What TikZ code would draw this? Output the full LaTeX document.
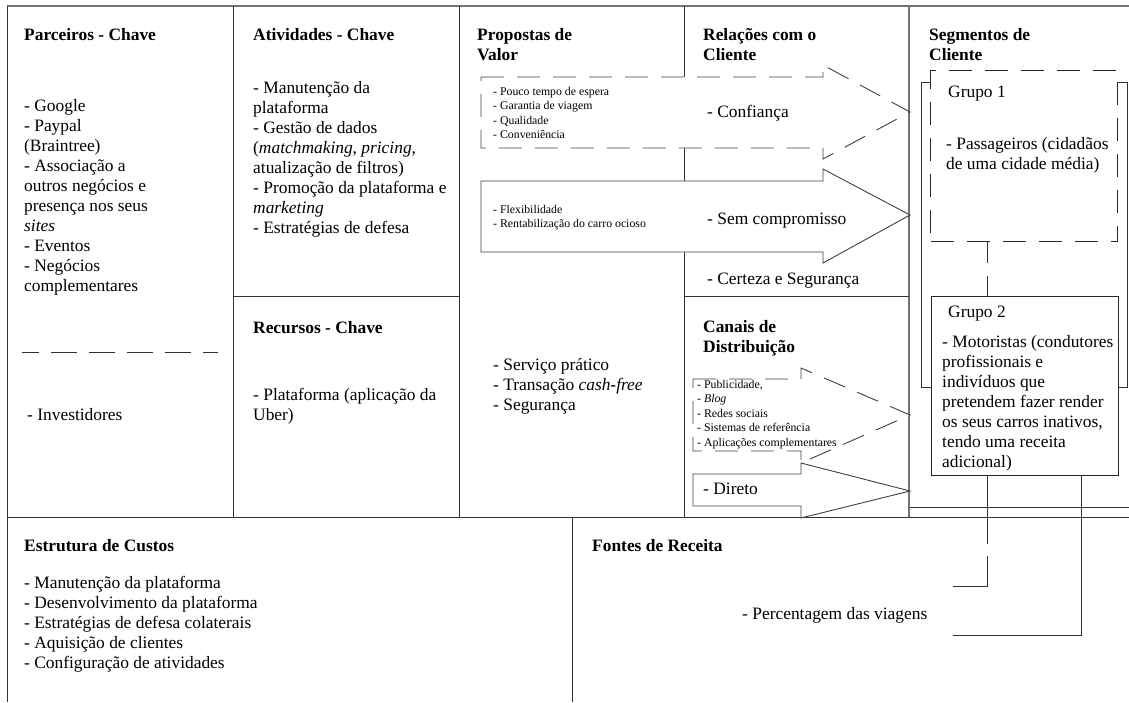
\documentclass[tikz,border=0pt]{standalone}
\usepackage{fontspec}
\setmainfont{Liberation Serif}
\usepackage{tikz}
\usetikzlibrary{positioning}

\tikzset{
  grid/.style={draw=black!80, line width=1pt},
  edge/.style={draw=black!55, line width=1.6pt},
  title/.style={font=\fontsize{17.4}{20}\selectfont\bfseries, anchor=base west, inner sep=0pt, align=left},
  body/.style={font=\fontsize{17.4}{20}\selectfont, anchor=base west, inner sep=0pt, align=left},
  small/.style={font=\fontsize{11.8}{14.5}\selectfont, anchor=base west, inner sep=0pt, align=left},
  longdash/.style={dash pattern=on 23pt off 13pt},
  grpbox/.style={draw=black!85, line width=1pt, fill=white, anchor=north west, inner sep=0pt},
  arrowbox/.style={draw=black!75, line width=0.9pt, fill=white, line join=miter}
}

\begin{document}
\begin{tikzpicture}[x=1pt, y=-1pt]
        \useasboundingbox (0,0) rectangle (1129,702);

        % Raster
        \draw[edge] (7,6) -- (1129,6);
        \draw[grid] (7,6) -- (7,702);
        \draw[grid] (233,6) -- (233,517);
        \draw[grid] (459,6) -- (459,517);
        \draw[grid] (684,6) -- (684,517);
        \draw[edge] (909,6) -- (909,517);
        \draw[grid] (233,296) -- (459,296);
        \draw[grid] (684,296) -- (909,296);
        \draw[grid] (910,507) -- (1129,507);
        \draw[grid] (7,517) -- (1129,517);
        \draw[grid] (572,517) -- (572,702);

        % Parceiros - Chave (multi-line nodes sit on their last baseline)
        \node[title] (parc) at (24,40) {Parceiros - Chave};
        \node[body] (parclist) at (24,291) {- Google\\- Paypal\\(Braintree)\\- Associação a\\outros negócios e\\presença nos seus\\\textit{sites}\\- Eventos\\- Negócios\\complementares};
        \draw[grid, dash pattern=on 26pt off 12pt, dash phase=9pt] (22,352) -- (218,352);
        \node[body] (invest) at (27,420) {- Investidores};

        % Atividades / Recursos
        \node[title] (ativ) at (253,40) {Atividades - Chave};
        \node[body] (ativlist) at (253,233) {- Manutenção da\\plataforma\\- Gestão de dados\\(\textit{matchmaking}, \textit{pricing},\\atualização de filtros)\\- Promoção da plataforma e\\\textit{marketing}\\- Estratégias de defesa};
        \node[title] (recur) at (253,333) {Recursos - Chave};
        \node[body] (recurlist) at (253,420) {- Plataforma (aplicação da\\Uber)};

        % Propostas de Valor
        \node[title] (prop) at (477,60) {Propostas de\\Valor};
        \node[body] (proplist) at (493,410) {- Serviço prático\\- Transação \textit{cash-free}\\- Segurança};

        % Relacoes com o Cliente
        \node[title] (rel) at (703,60) {Relações com o\\Cliente};
        \draw[arrowbox, longdash] (481,77) -- (823,77) -- (823,65) -- (910,112) -- (823,159) -- (823,148) -- (481,148) -- cycle;
        \draw[arrowbox] (481,181) -- (823,181) -- (823,169) -- (910,215) -- (823,263) -- (823,252) -- (481,252) -- cycle;
        \node[small] (arrvalor) at (493,138.5) {- Pouco tempo de espera\\- Garantia de viagem\\- Qualidade\\- Conveniência};
        \node[body] (conf) at (707,117) {- Confiança};
        \node[small] (arrflex) at (493,227.5) {- Flexibilidade\\- Rentabilização do carro ocioso};
        \node[body] (semcomp) at (707,224) {- Sem compromisso};
        \node[body] (certeza) at (707,284) {- Certeza e Segurança};

        % Canais de Distribuicao
        \node[title] (canais) at (703,352) {Canais de\\Distribuição};
        \draw[arrowbox, longdash] (693,379) -- (801,379) -- (801,368) -- (910,415) -- (801,463) -- (801,451) -- (693,451) -- cycle;
        \draw[arrowbox] (693,474) -- (801,474) -- (801,463) -- (910,491) -- (801,518) -- (801,506) -- (693,506) -- cycle;
        \node[small] (arrcanais) at (697,446) {- Publicidade,\\- \textit{Blog}\\- Redes sociais\\- Sistemas de referência\\- Aplicações complementares};
        \node[body] (direto) at (703,494) {- Direto};

        % Segmentos de Cliente
        \node[title] (segm) at (929,60) {Segmentos de\\Cliente};
        \draw[grid] (921,82) rectangle (1127,387);
        \coordinate (k1) at (987,586);
        \coordinate (k1end) at (953,586);
        \coordinate (k2) at (1081,635);
        \coordinate (k2end) at (953,635);
        \node[grpbox, longdash, minimum width=187pt, minimum height=171pt] (grp1) at (930,70) {};
        \draw[grid, dash pattern=on 21pt off 13pt on 268pt off 12pt on 100pt off 1pt] (grp1.south -| k1) -- (k1) -- (k1end);
        \node[grpbox, minimum width=187pt, minimum height=179pt] (grp2) at (931,296) {};
        \draw[grid] (grp2.south -| k2) -- (k2) -- (k2end);
        \node[body] (g1title) at (948,97) {Grupo 1};
        \node[body] (g1txt) at (946,169) {- Passageiros (cidadãos\\de uma cidade média)};
        \node[body] (g2title) at (948,317) {Grupo 2};
        \node[body] (g2txt) at (942,467) {- Motoristas (condutores\\profissionais e\\indivíduos que\\pretendem fazer render\\os seus carros inativos,\\tendo uma receita\\adicional)};

        % Estrutura de Custos / Fontes de Receita
        \node[title] (custos) at (24,551) {Estrutura de Custos};
        \node[body] (custlist) at (24,668) {- Manutenção da plataforma\\- Desenvolvimento da plataforma\\- Estratégias de defesa colaterais\\- Aquisição de clientes\\- Configuração de atividades};
        \node[title] (fontes) at (592,551) {Fontes de Receita};
        \node[body] (percent) at (742,619) {- Percentagem das viagens};
\end{tikzpicture}
\end{document}
